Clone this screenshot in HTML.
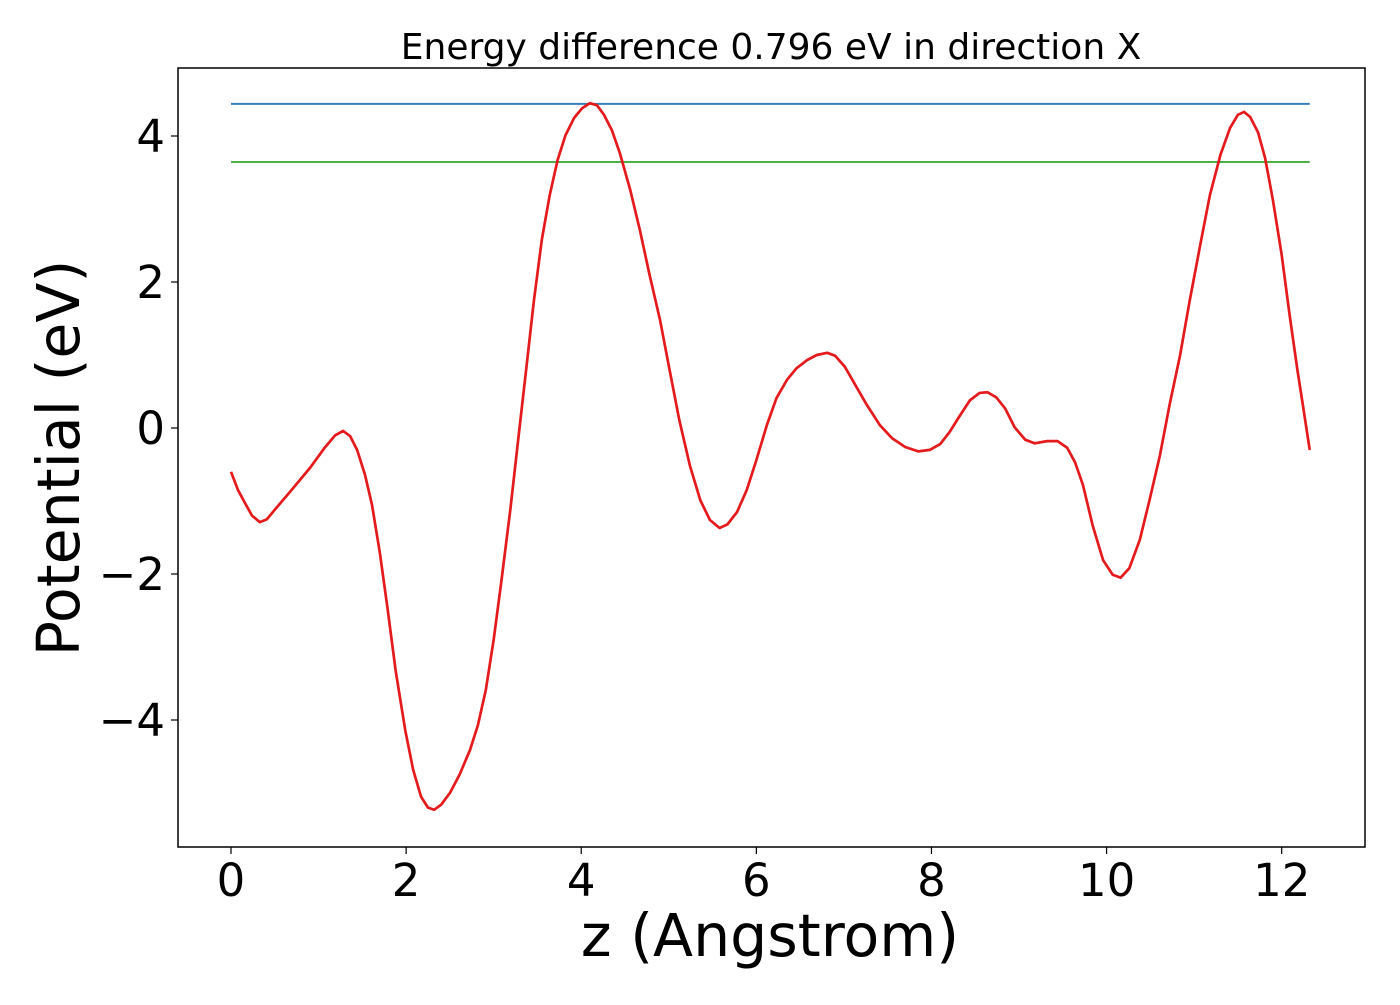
<!DOCTYPE html>
<html><head><meta charset="utf-8"><style>
body{margin:0;background:#fff;}
svg text{font-family:"DejaVu Sans","Liberation Sans",sans-serif;fill:#000;}
</style></head><body>
<svg id="chart" width="1400" height="1000" xmlns="http://www.w3.org/2000/svg">
<rect width="1400" height="1000" fill="#fff"/>
<text x="771" y="59" font-size="36" text-anchor="middle">Energy difference 0.796 eV in direction X</text>
<g id="plot"></g>
<rect x="178" y="68" width="1187" height="779" fill="none" stroke="#000" stroke-width="1.5"/>
<text x="770" y="956" font-size="58.5" text-anchor="middle">z (Angstrom)</text>
<text transform="translate(79,458) rotate(-90)" font-size="58.5" text-anchor="middle">Potential (eV)</text>
</svg>
<script>
const xTicks=[0,2,4,6,8,10,12];
const yTicks=[4,2,0,-2,-4];
const refLevels=[4.44,3.644];
const refColors=['#377eb8','#4daf4a'];
const zVals=[0,0.08,0.17,0.24,0.33,0.41,0.5,0.67,0.9,1.07,1.19,1.28,1.36,1.44,1.53,1.61,1.70,1.79,1.88,1.99,2.08,2.17,2.25,2.32,2.40,2.50,2.61,2.73,2.82,2.91,3.0,3.09,3.19,3.28,3.37,3.46,3.55,3.64,3.73,3.82,3.92,4.01,4.10,4.18,4.26,4.35,4.44,4.56,4.67,4.78,4.90,5.01,5.12,5.24,5.36,5.47,5.58,5.67,5.78,5.89,6.0,6.12,6.23,6.35,6.46,6.58,6.69,6.81,6.90,7.01,7.13,7.26,7.41,7.55,7.70,7.85,7.98,8.10,8.21,8.33,8.44,8.55,8.64,8.74,8.84,8.95,9.07,9.18,9.32,9.44,9.55,9.64,9.73,9.84,9.96,10.07,10.16,10.26,10.38,10.49,10.61,10.72,10.84,10.95,11.07,11.18,11.30,11.41,11.50,11.57,11.64,11.73,11.81,11.90,12.00,12.09,12.18,12.25,12.32];
const potVals=[-0.60,-0.85,-1.05,-1.2,-1.29,-1.25,-1.12,-0.88,-0.55,-0.27,-0.1,-0.04,-0.11,-0.3,-0.64,-1.05,-1.71,-2.49,-3.32,-4.14,-4.68,-5.05,-5.2,-5.23,-5.16,-5.0,-4.75,-4.41,-4.07,-3.59,-2.9,-2.08,-1.12,-0.16,0.79,1.75,2.58,3.19,3.67,4.01,4.25,4.38,4.45,4.42,4.29,4.08,3.77,3.26,2.71,2.10,1.48,0.79,0.11,-0.51,-0.99,-1.26,-1.37,-1.32,-1.15,-0.85,-0.44,0.04,0.41,0.66,0.82,0.93,1.0,1.03,0.99,0.84,0.59,0.32,0.04,-0.14,-0.26,-0.32,-0.30,-0.22,-0.05,0.18,0.38,0.48,0.49,0.42,0.27,0.01,-0.16,-0.21,-0.18,-0.18,-0.27,-0.47,-0.78,-1.33,-1.81,-2.01,-2.05,-1.92,-1.53,-0.99,-0.37,0.32,1.0,1.75,2.51,3.19,3.74,4.11,4.29,4.33,4.26,4.05,3.70,3.12,2.37,1.55,0.79,0.25,-0.30];
const X=v=>231+v*(1281.7-231)/12;
const Y=v=>428-v*73;
const NS='http://www.w3.org/2000/svg';
const g=document.getElementById('plot');
function mk(t,a){const e=document.createElementNS(NS,t);for(const k in a)e.setAttribute(k,a[k]);g.appendChild(e);return e;}
const x0=zVals[0],x1=zVals[zVals.length-1];
refLevels.forEach((lv,i)=>{
 const l=mk('line',{x1:X(x0),x2:X(x1),y1:Y(lv),y2:Y(lv),stroke:refColors[i],'stroke-width':2});
 
 
});
const p=mk('polyline',{points:zVals.map((z,i)=>X(z)+','+Y(potVals[i])).join(' '),fill:'none',stroke:'#e41a1c','stroke-width':2.7,'stroke-linejoin':'round'});


xTicks.forEach(t=>{
 const l=mk('line',{x1:X(t),x2:X(t),y1:847,y2:854,stroke:'#000','stroke-width':1.2});
 
 
 const tx=mk('text',{x:X(t),y:896,'font-size':45,'text-anchor':'middle'});
 tx.textContent=String(t);
 
 
});
yTicks.forEach(t=>{
 const l=mk('line',{x1:171,x2:178,y1:Y(t),y2:Y(t),stroke:'#000','stroke-width':1.2});
 
 
 const tx=mk('text',{x:165,y:Y(t)+16,'font-size':45,'text-anchor':'end'});
 tx.textContent=t<0?'\u2212'+Math.abs(t):String(t);
 
 
});
</script>
</body></html>
